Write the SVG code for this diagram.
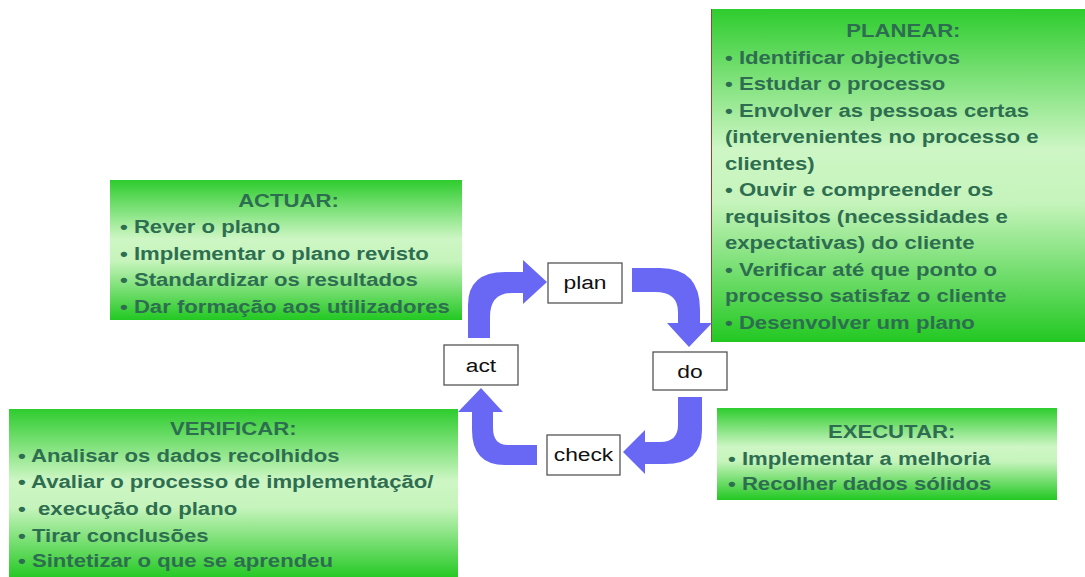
<svg xmlns="http://www.w3.org/2000/svg" width="1085" height="577" viewBox="0 0 1085 577">
<style>
.panel{stroke:none}
.t{font-family:"Liberation Sans",Arial,sans-serif;font-weight:bold;font-size:18px;fill:#2e6e50}
.lbl{font-family:"Liberation Sans",Arial,sans-serif;font-size:19px;fill:#111;text-anchor:middle}
.box{fill:#fff;stroke:#555;stroke-width:1.3}
.arr{fill:#6868f4}
</style>
<defs>
<linearGradient id="g" x1="0" y1="0" x2="0" y2="1">
<stop offset="0" stop-color="#2ecc2e"/>
<stop offset="0.42" stop-color="#cdf6c4"/>
<stop offset="0.58" stop-color="#c6f4bc"/>
<stop offset="1" stop-color="#22c822"/>
</linearGradient>
</defs>
<rect width="1085" height="577" fill="#fff"/>

<g id="planear">
<rect class="panel" x="711" y="9" width="380" height="333" fill="url(#g)"/>
<line x1="711.5" y1="9" x2="711.5" y2="342" stroke="#a04030" stroke-width="1"/>
<g transform="translate(725,0) scale(1.23,1)">
<text class="t" x="145" y="37" text-anchor="middle">PLANEAR:</text>
<text class="t" x="0" y="64">• Identificar objectivos</text>
<text class="t" x="0" y="90.5">• Estudar o processo</text>
<text class="t" x="0" y="117">• Envolver as pessoas certas</text>
<text class="t" x="0" y="143.5">(intervenientes no processo e</text>
<text class="t" x="0" y="170">clientes)</text>
<text class="t" x="0" y="196.5">• Ouvir e compreender os</text>
<text class="t" x="0" y="223">requisitos (necessidades e</text>
<text class="t" x="0" y="249.5">expectativas) do cliente</text>
<text class="t" x="0" y="276">• Verificar até que ponto o</text>
<text class="t" x="0" y="302.5">processo satisfaz o cliente</text>
<text class="t" x="0" y="329">• Desenvolver um plano</text>
</g>
</g>

<g id="actuar">
<rect class="panel" x="110" y="180" width="352" height="140" fill="url(#g)"/>
<g transform="translate(120,0) scale(1.23,1)">
<text class="t" x="137" y="207" text-anchor="middle">ACTUAR:</text>
<text class="t" x="0" y="233.5">• Rever o plano</text>
<text class="t" x="0" y="260">• Implementar o plano revisto</text>
<text class="t" x="0" y="286.5">• Standardizar os resultados</text>
<text class="t" x="0" y="313">• Dar formação aos utilizadores</text>
</g>
</g>

<g id="verificar">
<rect class="panel" x="9" y="409" width="449" height="170" fill="url(#g)"/>
<g transform="translate(18,0) scale(1.23,1)">
<text class="t" x="175" y="435" text-anchor="middle">VERIFICAR:</text>
<text class="t" x="0" y="462">• Analisar os dados recolhidos</text>
<text class="t" x="0" y="488">• Avaliar o processo de implementação/</text>
<text class="t" x="0" y="515" xml:space="preserve">•  execução do plano</text>
<text class="t" x="0" y="542">• Tirar conclusões</text>
<text class="t" x="0" y="567">• Sintetizar o que se aprendeu</text>
</g>
</g>

<g id="executar">
<rect class="panel" x="717" y="408" width="340" height="92" fill="url(#g)"/>
<g transform="translate(728,0) scale(1.23,1)">
<text class="t" x="133" y="438" text-anchor="middle">EXECUTAR:</text>
<text class="t" x="0" y="465">• Implementar a melhoria</text>
<text class="t" x="0" y="490">• Recolher dados sólidos</text>
</g>
</g>

<g id="connectors">
<path class="arr" d="M468,338 L468,305 Q468,272 505,272 L523,272 L523,260 L547,282 L523,304 L523,293 L512,293 Q490,293 490,317 L490,338 Z"/>
<path class="arr" d="M632,268 L660,268 Q700,268 700,310 L700,323 L712,323 L689,347 L667,323 L678,323 L678,312 Q678,292 655,292 L632,292 Z"/>
<path class="arr" d="M678,397 L678,425 Q678,442 660,442 L645,442 L645,430 L623,452 L645,474 L645,464 L665,464 Q702,464 702,430 L702,397 Z"/>
<path class="arr" d="M537,445 L508,445 Q493,445 493,428 L493,412 L503,412 L481,388 L458,412 L472,412 L472,430 Q472,465 505,465 L537,465 Z"/>
</g>

<g id="plan">
<rect class="box" x="548" y="263" width="74" height="40"/>
<text class="lbl" transform="translate(585,289) scale(1.2,1)">plan</text>
</g>
<g id="act">
<rect class="box" x="444" y="345" width="74" height="40"/>
<text class="lbl" transform="translate(481,372) scale(1.2,1)">act</text>
</g>
<g id="do">
<rect class="box" x="653" y="352" width="74" height="38"/>
<text class="lbl" transform="translate(690,378) scale(1.2,1)">do</text>
</g>
<g id="check">
<rect class="box" x="547" y="435" width="73" height="40"/>
<text class="lbl" transform="translate(583.5,461) scale(1.2,1)">check</text>
</g>
</svg>
